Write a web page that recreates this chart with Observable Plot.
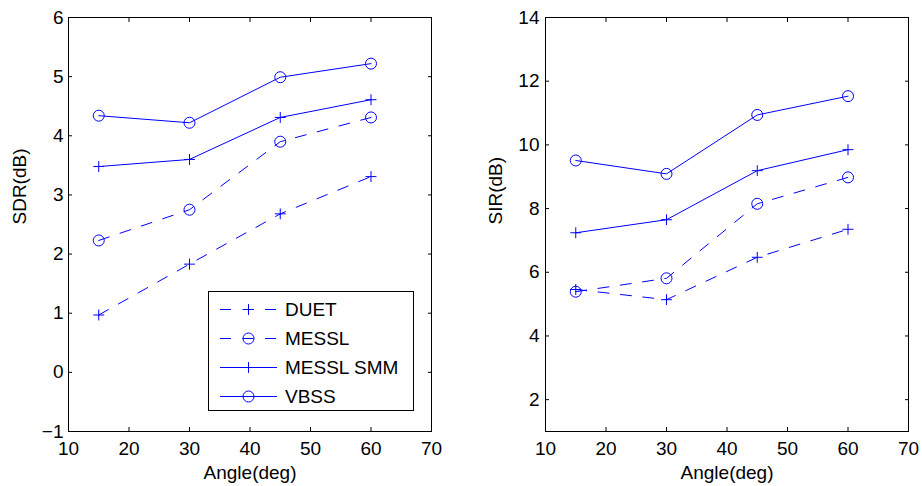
<!DOCTYPE html>
<html><head><meta charset="utf-8">
<script src="https://cdn.jsdelivr.net/npm/d3@7"></script>
<script src="https://cdn.jsdelivr.net/npm/@observablehq/plot@0.6"></script>
<style>
body{margin:0;background:#fff;}
#wrap{position:relative;width:922px;height:486px;overflow:hidden;background:#fff;}
#wrap > svg{position:absolute;top:0;}
</style></head><body><div id="wrap"></div>
<script>
const angles = [15, 30, 45, 60];
const seriesNames = ["DUET", "MESSL", "MESSL SMM", "VBSS"];
// SDR (dB), left panel
const sdrDUET = [0.97, 1.83, 2.68, 3.31];
const sdrMESSL = [2.23, 2.75, 3.90, 4.31];
const sdrMESSLSMM = [3.48, 3.60, 4.31, 4.61];
const sdrVBSS = [4.34, 4.22, 4.99, 5.22];
// SIR (dB), right panel
const sirDUET = [5.46, 5.14, 6.47, 7.35];
const sirMESSL = [5.39, 5.81, 8.15, 8.98];
const sirMESSLSMM = [7.24, 7.65, 9.19, 9.85];
const sirVBSS = [9.51, 9.09, 10.94, 11.53];
const xTicks = [10, 20, 30, 40, 50, 60, 70];
const sdrTicks = [-1, 0, 1, 2, 3, 4, 5, 6];
const sirTicks = [2, 4, 6, 8, 10, 12, 14];
const xLabel = "Angle(deg)";
const sdrLabel = "SDR(dB)";
const sirLabel = "SIR(dB)";

const blue = "#0000ff";
const FONT = "'Liberation Sans', Arial, Helvetica, sans-serif";
const FS = 19;
const DASH = "11,11.5";
const styles = {
  "DUET": {dash: DASH, symbol: "plus", r: 3.6},
  "MESSL": {dash: DASH, symbol: "circle", r: 5.5},
  "MESSL SMM": {dash: null, symbol: "plus", r: 3.6},
  "VBSS": {dash: null, symbol: "circle", r: 5.5}
};

function rows(valueArrays) {
  return seriesNames.flatMap((s, i) => angles.map((a, j) => ({series: s, angle: a, value: valueArrays[i][j]})));
}

function panel({data, yDomain, yTicks, yLabel, width, marginLeft, marginRight, yTickPad, yLabelDx}) {
  const marks = [Plot.frame({stroke: "black", strokeWidth: 1})];
  const tf = () => "";
  marks.push(
    Plot.axisX(xTicks, {anchor: "bottom", tickSize: -4, tickFormat: tf, label: null}),
    Plot.axisX(xTicks, {anchor: "top", tickSize: -4, tickFormat: tf, label: null}),
    Plot.axisY(yTicks, {anchor: "left", tickSize: -4, tickFormat: tf, label: null}),
    Plot.axisY(yTicks, {anchor: "right", tickSize: -4, tickFormat: tf, label: null}),
    Plot.axisX(xTicks, {anchor: "bottom", tickSize: 0, tickPadding: 10, tickFormat: d3.format("d"), label: null, fontSize: FS, fill: "black"}),
    Plot.axisY(yTicks, {anchor: "left", tickSize: 0, tickPadding: yTickPad, tickFormat: d3.format("d"), label: null, fontSize: FS, fill: "black"}),
    Plot.text([xLabel], {frameAnchor: "bottom", dy: 34, lineAnchor: "top", text: d => d, fontSize: FS, fill: "black"}),
    Plot.text([yLabel], {frameAnchor: "left", dx: yLabelDx, lineAnchor: "top", rotate: -90, text: d => d, fontSize: FS, fill: "black"})
  );
  for (const s of seriesNames) {
    const d = data.filter(r => r.series === s);
    marks.push(Plot.line(d, {x: "angle", y: "value", stroke: blue, strokeWidth: 1, strokeDasharray: styles[s].dash}));
    marks.push(Plot.dot(d, {x: "angle", y: "value", symbol: styles[s].symbol, r: styles[s].r, stroke: blue, fill: "none", strokeWidth: 1}));
  }
  return Plot.plot({
    width, height: 486, marginLeft, marginRight, marginTop: 17, marginBottom: 55,
    x: {domain: [10, 70]}, y: {domain: yDomain},
    style: {fontFamily: FONT, fontSize: FS + "px", color: "black", background: "white", overflow: "visible"},
    marks
  });
}

const left = panel({
  data: rows([sdrDUET, sdrMESSL, sdrMESSLSMM, sdrVBSS]),
  yDomain: [-1, 6], yTicks: sdrTicks, yLabel: sdrLabel,
  width: 460, marginLeft: 68, marginRight: 29, yTickPad: 5, yLabelDx: -56
});
const right = panel({
  data: rows([sirDUET, sirMESSL, sirMESSLSMM, sirVBSS]),
  yDomain: [1, 14], yTicks: sirTicks, yLabel: sirLabel,
  width: 462, marginLeft: 85, marginRight: 14, yTickPad: 6, yLabelDx: -57
});
left.style.left = "0px";
right.style.left = "460px";
const wrap = document.getElementById("wrap");
wrap.appendChild(left);
wrap.appendChild(right);

// Legend (inside left panel)
const lg = d3.select(left).append("g").attr("font-family", FONT).attr("font-size", FS).attr("text-anchor", "start");
lg.append("rect").attr("x", 208.5).attr("y", 291.5).attr("width", 205).attr("height", 119)
  .attr("fill", "white").attr("stroke", "black").attr("stroke-width", 1);
seriesNames.forEach((s, i) => {
  const y = 309.5 + i * 29;
  const st = styles[s];
  lg.append("line").attr("x1", 220).attr("x2", 277).attr("y1", y).attr("y2", y)
    .attr("stroke", blue).attr("stroke-width", 1).attr("stroke-dasharray", st.dash);
  const sym = st.symbol === "plus" ? d3.symbolPlus : d3.symbolCircle;
  lg.append("path").attr("d", d3.symbol(sym, Math.PI * st.r * st.r)())
    .attr("transform", `translate(248.5,${y})`).attr("fill", "none").attr("stroke", blue).attr("stroke-width", 1);
  lg.append("text").attr("x", 285).attr("y", y).attr("dy", "0.35em").attr("fill", "black").attr("text-anchor", "start").text(s);
});
</script></body></html>
